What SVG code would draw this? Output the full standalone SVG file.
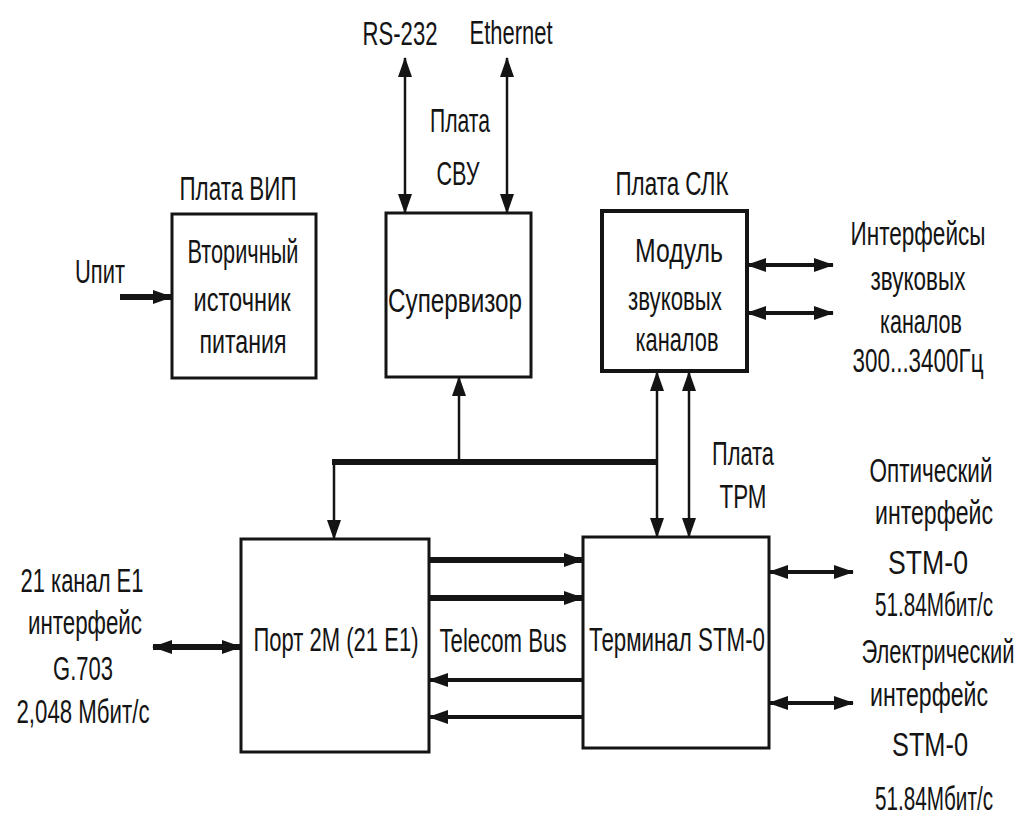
<svg xmlns="http://www.w3.org/2000/svg" width="1018" height="817" viewBox="0 0 1018 817">
<style>
  text { font-family: "Liberation Sans", Arial, sans-serif; font-size: 33px; fill: #141414; text-anchor: middle; }
  .box { fill: #ffffff; stroke: #141414; stroke-width: 3; }
  .c { fill: none; stroke: #141414; }
  .thin { stroke-width: 2.5; }
  .mid { stroke-width: 4; }
  .thick { stroke-width: 6; }
</style>
<defs>
  <marker id="ah" markerUnits="userSpaceOnUse" markerWidth="20" markerHeight="14" refX="19" refY="7" orient="auto-start-reverse" viewBox="0 0 20 14">
    <path d="M0,0 L20,7 L0,14 z" fill="#141414"/>
  </marker>
</defs>
<rect width="1018" height="817" fill="#ffffff"/>

<g id="connectors">
  <line class="c thick" x1="120" y1="297" x2="172" y2="297" marker-end="url(#ah)"/>
  <line class="c thin" x1="405" y1="58" x2="405" y2="213" marker-start="url(#ah)" marker-end="url(#ah)"/>
  <line class="c thin" x1="507" y1="58" x2="507" y2="213" marker-start="url(#ah)" marker-end="url(#ah)"/>
  <line class="c thin" x1="459" y1="462" x2="459" y2="377" marker-end="url(#ah)"/>
  <line class="c thick" x1="657" y1="462" x2="332" y2="462"/>
  <line class="c thin" x1="334" y1="462" x2="334" y2="539" marker-end="url(#ah)"/>
  <line class="c thin" x1="657" y1="372" x2="657" y2="537" marker-start="url(#ah)" marker-end="url(#ah)"/>
  <line class="c thin" x1="689" y1="372" x2="689" y2="537" marker-start="url(#ah)" marker-end="url(#ah)"/>
  <line class="c mid" x1="747" y1="265" x2="833" y2="265" marker-start="url(#ah)" marker-end="url(#ah)"/>
  <line class="c mid" x1="747" y1="313" x2="833" y2="313" marker-start="url(#ah)" marker-end="url(#ah)"/>
  <line class="c thick" x1="153" y1="647" x2="241" y2="647" marker-start="url(#ah)" marker-end="url(#ah)"/>
  <line class="c thick" x1="429" y1="560" x2="583" y2="560" marker-end="url(#ah)"/>
  <line class="c thick" x1="429" y1="598" x2="583" y2="598" marker-end="url(#ah)"/>
  <line class="c mid" x1="583" y1="680" x2="429" y2="680" marker-end="url(#ah)"/>
  <line class="c mid" x1="583" y1="717" x2="429" y2="717" marker-end="url(#ah)"/>
  <line class="c mid" x1="769" y1="572" x2="853" y2="572" marker-start="url(#ah)" marker-end="url(#ah)"/>
  <line class="c mid" x1="769" y1="703" x2="853" y2="703" marker-start="url(#ah)" marker-end="url(#ah)"/>
</g>

<g id="labels">
  <text x="400" y="45" textLength="75" lengthAdjust="spacingAndGlyphs">RS-232</text>
  <text x="511" y="44" textLength="83" lengthAdjust="spacingAndGlyphs">Ethernet</text>
  <text x="460" y="132" textLength="60" lengthAdjust="spacingAndGlyphs">Плата</text>
  <text x="458" y="185" textLength="43" lengthAdjust="spacingAndGlyphs">СВУ</text>
  <text x="100" y="283" textLength="50" lengthAdjust="spacingAndGlyphs">Uпит</text>
  <text x="918" y="245" textLength="135" lengthAdjust="spacingAndGlyphs">Интерфейсы</text>
  <text x="918" y="290" textLength="95" lengthAdjust="spacingAndGlyphs">звуковых</text>
  <text x="921" y="333" textLength="82" lengthAdjust="spacingAndGlyphs">каналов</text>
  <text x="918" y="372" textLength="131" lengthAdjust="spacingAndGlyphs">300...3400Гц</text>
  <text x="82" y="592" textLength="123" lengthAdjust="spacingAndGlyphs">21 канал E1</text>
  <text x="85" y="634" textLength="114" lengthAdjust="spacingAndGlyphs">интерфейс</text>
  <text x="83" y="680" textLength="60" lengthAdjust="spacingAndGlyphs">G.703</text>
  <text x="83" y="723" textLength="133" lengthAdjust="spacingAndGlyphs">2,048 Мбит/с</text>
  <text x="503" y="652" textLength="127" lengthAdjust="spacingAndGlyphs">Telecom Bus</text>
  <text x="743" y="465" textLength="62" lengthAdjust="spacingAndGlyphs">Плата</text>
  <text x="743" y="508" textLength="47" lengthAdjust="spacingAndGlyphs">ТРМ</text>
  <text x="931" y="482" textLength="123" lengthAdjust="spacingAndGlyphs">Оптический</text>
  <text x="934" y="524" textLength="118" lengthAdjust="spacingAndGlyphs">интерфейс</text>
  <text x="928" y="574" textLength="80" lengthAdjust="spacingAndGlyphs">STM-0</text>
  <text x="934" y="616" textLength="118" lengthAdjust="spacingAndGlyphs">51.84Мбит/с</text>
  <text x="938" y="663" textLength="153" lengthAdjust="spacingAndGlyphs">Электрический</text>
  <text x="929" y="706" textLength="118" lengthAdjust="spacingAndGlyphs">интерфейс</text>
  <text x="930" y="756" textLength="76" lengthAdjust="spacingAndGlyphs">STM-0</text>
  <text x="934" y="810" textLength="118" lengthAdjust="spacingAndGlyphs">51.84Мбит/с</text>
</g>

<g id="vip">
  <text x="238" y="200" textLength="117" lengthAdjust="spacingAndGlyphs">Плата ВИП</text>
  <rect class="box" x="172" y="214" width="144" height="164"/>
  <text x="243" y="263" textLength="111" lengthAdjust="spacingAndGlyphs">Вторичный</text>
  <text x="242" y="311" textLength="97" lengthAdjust="spacingAndGlyphs">источник</text>
  <text x="243" y="353" textLength="87" lengthAdjust="spacingAndGlyphs">питания</text>
</g>

<g id="supervisor">
  <rect class="box" x="386" y="213" width="145" height="164"/>
  <text x="455" y="312" textLength="134" lengthAdjust="spacingAndGlyphs">Супервизор</text>
</g>

<g id="slk">
  <text x="672" y="195" textLength="113" lengthAdjust="spacingAndGlyphs">Плата СЛК</text>
  <rect class="box" x="602" y="211" width="145" height="160" style="stroke-width:4"/>
  <text x="679" y="262" textLength="88" lengthAdjust="spacingAndGlyphs">Модуль</text>
  <text x="675" y="310" textLength="94" lengthAdjust="spacingAndGlyphs">звуковых</text>
  <text x="677" y="351" textLength="83" lengthAdjust="spacingAndGlyphs">каналов</text>
</g>

<g id="port2m">
  <rect class="box" x="241" y="539" width="188" height="213"/>
  <text x="336" y="651" textLength="165" lengthAdjust="spacingAndGlyphs">Порт 2M (21 E1)</text>
</g>

<g id="terminal">
  <rect class="box" x="583" y="537" width="186" height="211"/>
  <text x="677" y="651" textLength="176" lengthAdjust="spacingAndGlyphs">Терминал STM-0</text>
</g>
</svg>
